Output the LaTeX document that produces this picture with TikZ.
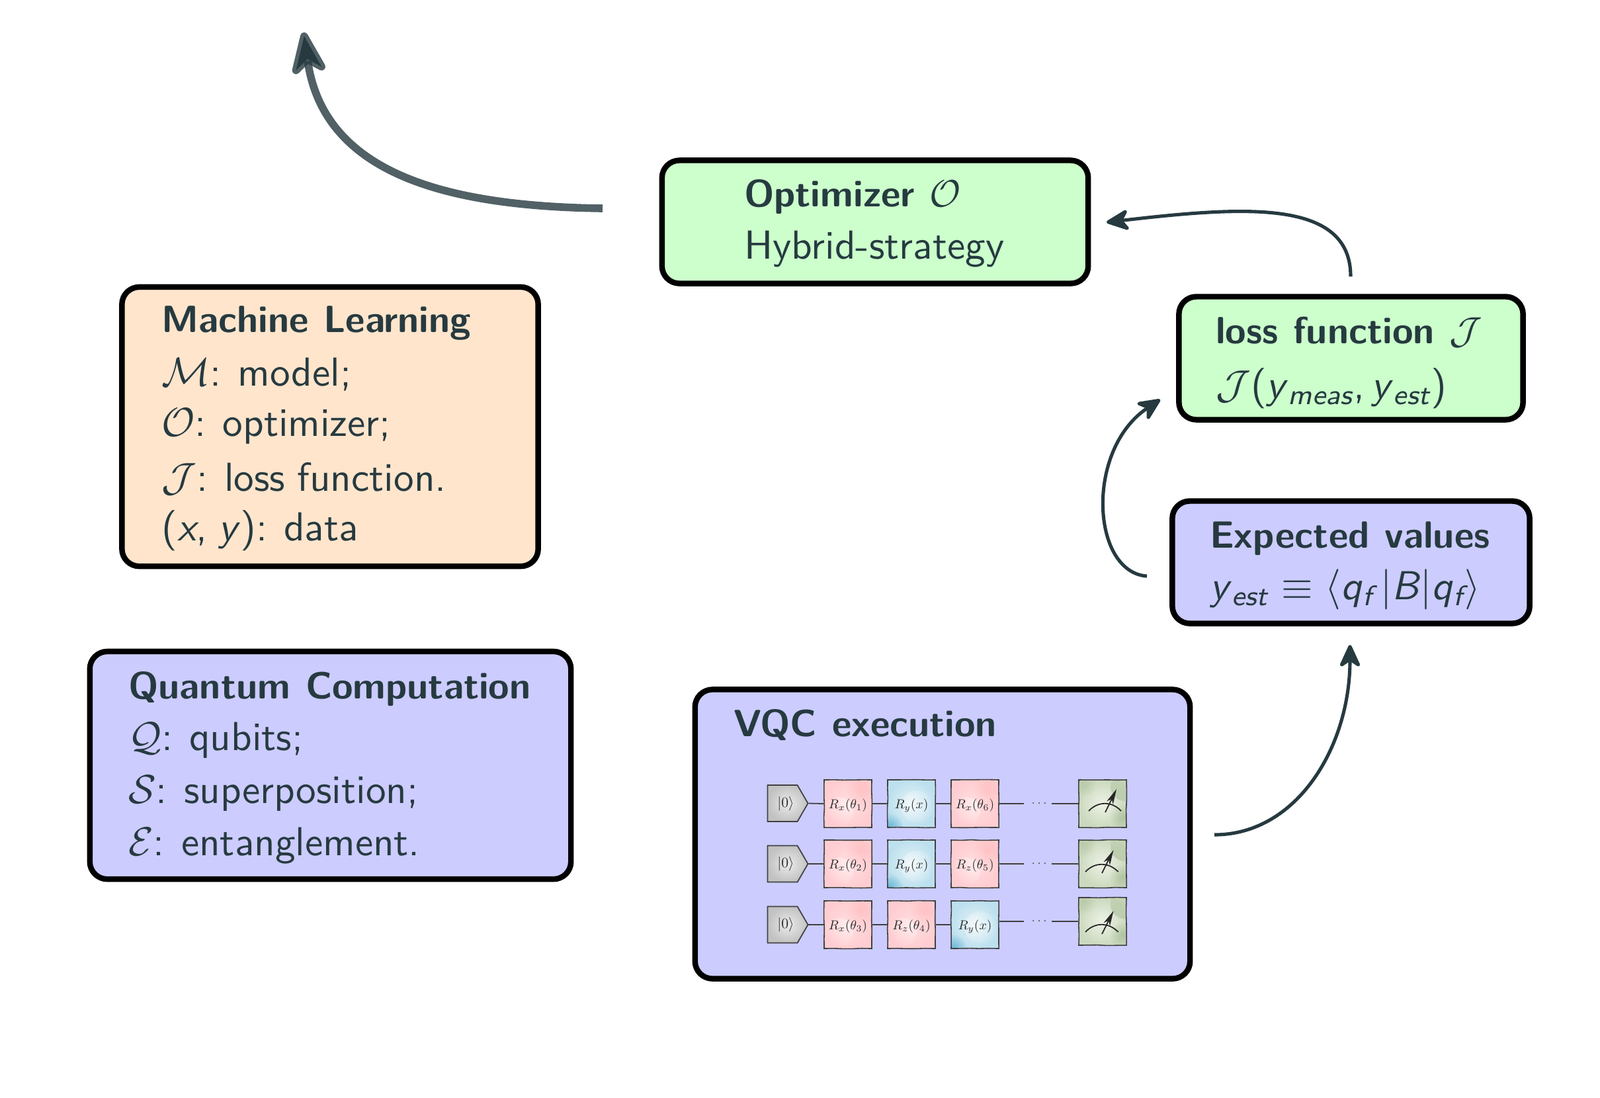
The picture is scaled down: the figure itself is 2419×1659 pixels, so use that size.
\documentclass[tikz,border=0pt]{standalone}
\usetikzlibrary{arrows.meta,shapes.symbols,fadings,decorations.pathmorphing}
\definecolor{ink}{HTML}{263A40}
\definecolor{peach}{HTML}{FFE5CC}
\definecolor{lilac}{HTML}{CCCCFF}
\definecolor{mint}{HTML}{CCFFCC}
\definecolor{redin}{HTML}{FFDFE1}
\definecolor{redout}{HTML}{FFCDD1}
\definecolor{bluein}{HTML}{E6F3F8}
\definecolor{blueout}{HTML}{BDE0EE}
\definecolor{bluedeep}{HTML}{4FA8CF}
\definecolor{greenin}{HTML}{EEF2E6}
\definecolor{greenout}{HTML}{CBD9BE}
\definecolor{greendeep}{HTML}{8FAA7C}
\newcommand\ssub[2]{\textit{#1}$_{\mbox{\scriptsize\itshape #2}}$}
\newcommand\widesp{\spaceskip=.3em\relax}
\newcommand\widespb{\spaceskip=.4em\relax}
\tikzfading[name=fuzzy, inner color=transparent!0, outer color=transparent!100]
\tikzset{
  x=0.01cm,y=-0.01cm,
  box/.style={draw=black,line width=2.4pt,rounded corners=7.5pt,inner sep=0pt,rectangle},
  peachbox/.style={box,fill=peach},
  lilacbox/.style={box,fill=lilac},
  mintbox/.style={box,fill=mint},
  txt/.style={anchor=base west,inner sep=0pt,scale=1.74,text=ink,font=\sffamily\widesp},
  head/.style={anchor=base west,inner sep=0pt,scale=1.63,text=ink,font=\sffamily\bfseries\widespb},
  curve/.style={draw=ink,line width=1.45pt,-{Stealth[length=11.5pt,width=10.5pt,inset=3.5pt,round]}},
  bigcurve/.style={draw=ink,draw opacity=.8,line width=3.3pt,-{Stealth[length=23pt,width=18pt,inset=6.5pt,round]}},
  gbase/.style={rectangle,draw=black!75,line width=.45pt,minimum width=.72cm,minimum height=.72cm,inner sep=0pt,
     decorate,decoration={random steps,segment length=4pt,amplitude=.12pt},font=\normalsize},
  redg/.style={gbase,inner color=redin,outer color=redout,
     path picture={
       \fill[white,opacity=.45,path fading=fuzzy] ([shift={(-14,12)}]path picture bounding box.center) circle[radius=22];
       \fill[red!50,opacity=.18,path fading=fuzzy] ([shift={(18,-20)}]path picture bounding box.center) circle[radius=22];
     }},
  blueg/.style={gbase,inner color=bluein,outer color=blueout,
     path picture={
       \fill[white,opacity=.5,path fading=fuzzy] ([shift={(8,4)}]path picture bounding box.center) circle[radius=24];
       \fill[bluedeep,opacity=.8,path fading=fuzzy] ([shift={(-34,36)}]path picture bounding box.center) circle[radius=22];
     }},
  greeng/.style={gbase,inner color=greenin,outer color=greenout,
     path picture={
       \fill[greendeep,opacity=.5,path fading=fuzzy] ([shift={(34,-26)}]path picture bounding box.center) circle[radius=22];
       \fill[greendeep,opacity=.45,path fading=fuzzy] ([shift={(30,20)}]path picture bounding box.center) circle[radius=20];
       \fill[greendeep,opacity=.3,path fading=fuzzy] ([shift={(-30,-30)}]path picture bounding box.center) circle[radius=20];
     }},
  ketg/.style={signal,signal to=east,signal pointer angle=120,draw=black!75,line width=.5pt,
     inner color=black!8,outer color=black!24,minimum width=.61cm,minimum height=.55cm,inner sep=0pt,font=\normalsize},
  gatetxt/.style={inner sep=0pt,scale=.56,text=black!85},
  wire/.style={draw=black!75,line width=.5pt},
  meter/.style={draw=black!85,line width=.5pt},
  meterarrow/.style={draw=black!85,line width=.5pt,-{Stealth[length=6.5pt,width=3pt,inset=1.8pt]}}
}
\begin{document}
\begin{tikzpicture}
\useasboundingbox (0,0) rectangle (2419,1659);

% boxes
\node[peachbox,minimum width=6.29cm,minimum height=4.22cm] (ml) at (499,645) {};
\node[lilacbox,minimum width=7.27cm,minimum height=3.44cm] (qc) at (499.5,1157) {};
\node[mintbox,minimum width=6.44cm,minimum height=1.86cm] (opt) at (1323,335.5) {};
\node[mintbox,minimum width=5.20cm,minimum height=1.86cm] (loss) at (2042.5,541.5) {};
\node[lilacbox,minimum width=5.40cm,minimum height=1.85cm] (expv) at (2042.5,850) {};
\node[lilacbox,minimum width=7.48cm,minimum height=4.37cm] (vqc) at (1425,1261) {};

% machine learning
\node[head] (mlh) at (243,502) {Machine Learning};
\node[txt] (ml1) at (243,583) {$\mathcal{M}$: model;};
\node[txt] (ml2) at (243,659) {$\mathcal{O}$: optimizer;};
\node[txt] (ml3) at (243,742) {$\mathcal{J}$: loss function.};
\node[txt] (ml4) at (243,817) {(\textit{x},\;\textit{y}): data};

% quantum computation
\node[head] (qch) at (193,1056) {Quantum Computation};
\node[txt] (qc1) at (193,1134) {$\mathcal{Q}$: qubits;};
\node[txt] (qc2) at (193,1214) {$\mathcal{S}$: superposition;};
\node[txt] (qc3) at (193,1293) {$\mathcal{E}$: entanglement.};

% optimizer
\node[head] (opth) at (1124,312) {Optimizer $\mathcal{O}$};
\node[txt] (opt1) at (1124,391) {Hybrid-strategy};

% loss
\node[head] (lossh) at (1837,519) {loss function $\mathcal{J}$};
\node[txt] (loss1) at (1837,602) {$\mathcal{J}$(\ssub{y}{meas},\,\ssub{y}{est})};

% expected
\node[head] (exph) at (1828,828) {Expected values};
\node[txt] (exp1) at (1828,906) {\ssub{y}{est} $\equiv$ $\langle$\ssub{q}{f}$\,|$\textit{B}$|$\ssub{q}{f}$\rangle$};

% vqc
\node[head] (vqch) at (1108,1113) {VQC execution};

% circuit nodes
\node[ketg] (k1) at (1183,1214.5) {};
\node[ketg] (k2) at (1183,1306) {};
\node[ketg] (k3) at (1183,1398) {};
\node[gatetxt,scale=1.1] (kt1) at (1188,1215) {$|0\rangle$};
\node[gatetxt,scale=1.1] (kt2) at (1188,1306) {$|0\rangle$};
\node[gatetxt,scale=1.1] (kt3) at (1188,1398) {$|0\rangle$};

\node[redg] (g11) at (1282,1215) {};
\node[blueg] (g12) at (1378,1215) {};
\node[redg] (g13) at (1474,1215) {};
\node[redg] (g21) at (1282,1306) {};
\node[blueg] (g22) at (1378,1306) {};
\node[redg] (g23) at (1474,1306) {};
\node[redg] (g31) at (1282,1398) {};
\node[redg] (g32) at (1378,1398) {};
\node[blueg] (g33) at (1474,1398) {};
\node[greeng] (m1) at (1667,1215) {};
\node[greeng] (m2) at (1667,1306) {};
\node[greeng] (m3) at (1667,1393) {};

\node[gatetxt] (t11) at (1282,1218) {$R_x(\theta_1)$};
\node[gatetxt] (t12) at (1378,1218) {$R_y(x)$};
\node[gatetxt] (t13) at (1474,1218) {$R_x(\theta_6)$};
\node[gatetxt] (t21) at (1282,1309) {$R_x(\theta_2)$};
\node[gatetxt] (t22) at (1378,1309) {$R_y(x)$};
\node[gatetxt] (t23) at (1474,1309) {$R_z(\theta_5)$};
\node[gatetxt] (t31) at (1282,1401) {$R_x(\theta_3)$};
\node[gatetxt] (t32) at (1378,1401) {$R_z(\theta_4)$};
\node[gatetxt] (t33) at (1474,1401) {$R_y(x)$};

\coordinate (e1) at (1548,1215);
\coordinate (e2) at (1548,1306);
\coordinate (e3) at (1548,1393);
\coordinate (s1) at (1590,1215);
\coordinate (s2) at (1590,1306);
\coordinate (s3) at (1590,1393);
\node[gatetxt,text=black!70] (d1) at (1571,1215) {$\cdots$};
\node[gatetxt,text=black!70] (d2) at (1571,1306) {$\cdots$};
\node[gatetxt,text=black!70] (d3) at (1571,1393) {$\cdots$};

% wires
\draw[wire] (k1.east) -- (g11.west);
\draw[wire] (g11.east) -- (g12.west);
\draw[wire] (g12.east) -- (g13.west);
\draw[wire] (g13.east) -- (e1);
\draw[wire] (s1) -- (m1.west);
\draw[wire] (k2.east) -- (g21.west);
\draw[wire] (g21.east) -- (g22.west);
\draw[wire] (g22.east) -- (g23.west);
\draw[wire] (g23.east) -- (e2);
\draw[wire] (s2) -- (m2.west);
\draw[wire] (k3.east) -- (g31.west);
\draw[wire] (g31.east) -- (g32.west);
\draw[wire] (g32.east) -- (g33.west);
\draw[wire] (g33.east |- m3.west) -- (e3);
\draw[wire] (s3) -- (m3.west);

% meters
\draw[meter] (1646,1226) .. controls (1660,1211) and (1681,1211) .. (1695,1226);
\draw[meterarrow] (1671,1228) -- (1688,1193);
\draw[meter] (1641,1318) .. controls (1655,1303) and (1676,1303) .. (1690.6,1318);
\draw[meterarrow] (1666,1320) -- (1683.5,1285);
\draw[meter] (1641,1409) .. controls (1655,1394) and (1676,1394) .. (1690.6,1409);
\draw[meterarrow] (1666,1412) -- (1683.5,1377);

% curved arrows
\coordinate (c1s) at (1836,1262);
\coordinate (c1e) at (2041,975);
\coordinate (c2s) at (1734,871);
\coordinate (c2e) at (1754,604);
\coordinate (c3s) at (2042,418);
\coordinate (c3e) at (1673,336);
\coordinate (c4s) at (911,315);
\coordinate (c4e) at (459,49);
\draw[curve] (c1s) .. controls (1960,1262) and (2041,1130) .. (c1e);
\draw[curve] (c2s) .. controls (1650,865) and (1640,680) .. (c2e);
\draw[curve] (c3s) .. controls (2042,300) and (1880,312) .. (c3e);
\draw[bigcurve] (c4s) .. controls (680,312) and (490,265) .. (c4e);
\end{tikzpicture}
\end{document}
